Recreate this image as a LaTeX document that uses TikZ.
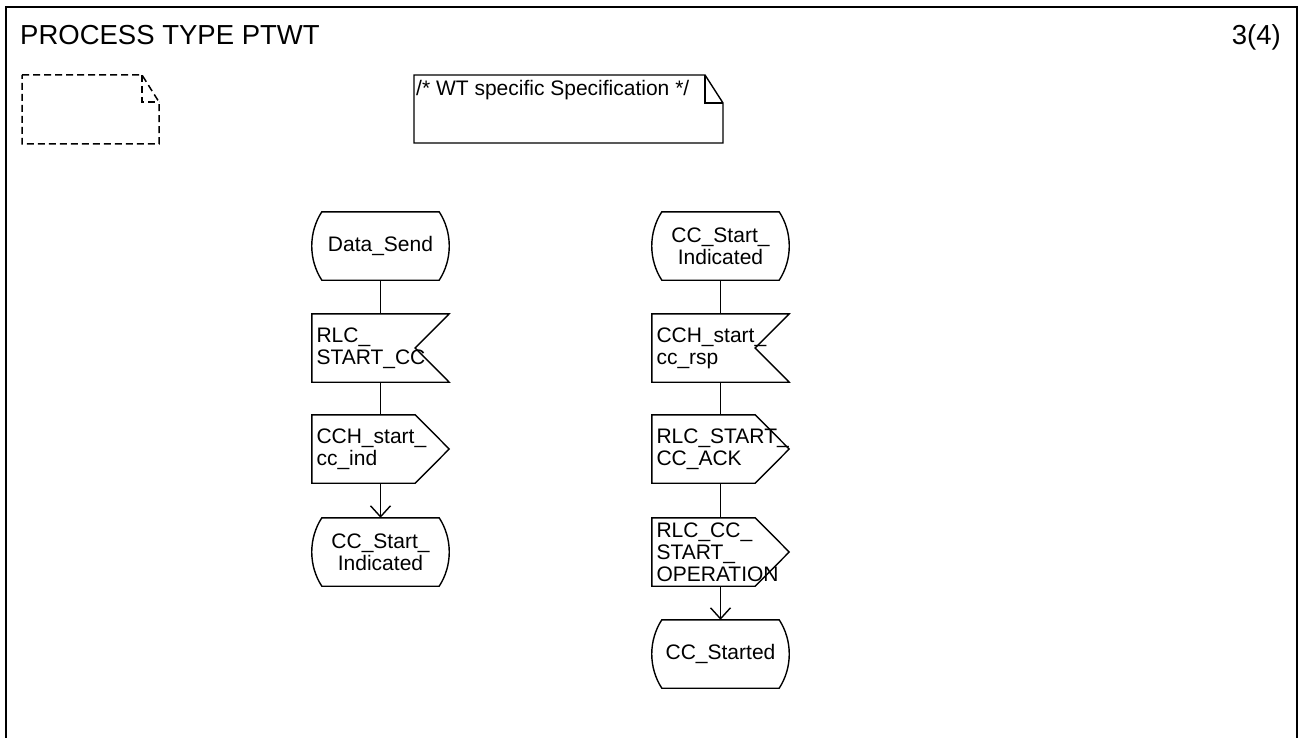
\documentclass[tikz,border=0pt]{standalone}
\usepackage{fontspec}
\setmainfont{Liberation Sans}
\usetikzlibrary{arrows.meta,calc}
\newcommand\sdlstateshape[1]{\draw[sdlline] ([xshift=10pt]#1.north west) -- ([xshift=-10pt]#1.north east) .. controls ([xshift=3.4pt,yshift=-20.7pt]#1.north east) and ([xshift=3.4pt,yshift=20.7pt]#1.south east) .. ([xshift=-10pt]#1.south east) -- ([xshift=10pt]#1.south west) .. controls ([xshift=-3.4pt,yshift=20.7pt]#1.south west) and ([xshift=-3.4pt,yshift=-20.7pt]#1.north west) .. cycle;}
\newcommand\sdlinshape[1]{\draw[sdlline] (#1.north west) -- (#1.north east) -- ([xshift=-34pt]#1.east) -- (#1.south east) -- (#1.south west) -- cycle;}
\newcommand\sdloutshape[1]{\draw[sdlline] (#1.north west) -- ([xshift=-34pt]#1.north east) -- (#1.east) -- ([xshift=-34pt]#1.south east) -- (#1.south west) -- cycle;}
\tikzset{
  sdlline/.style={line width=1.4pt, line join=miter},
  framestyle/.style={line width=2pt},
  nodefont/.style={font=\fontsize{21}{22}\selectfont},
  sdlbase/.style={nodefont, shape=rectangle, minimum height=68pt, inner xsep=4.5pt, inner ysep=0pt, text width=128pt},
  statebox/.style={sdlbase, align=center},
  inbox/.style={sdlbase, align=left},
  outbox/.style={sdlbase, align=left},
  conn/.style={line width=1.4pt},
  arr/.style={line width=1.4pt, -{Straight Barb[length=11pt,width=20pt,line width=1.4pt]}},
}
\begin{document}
\begin{tikzpicture}[x=1pt,y=-1pt]
\useasboundingbox (0,0) rectangle (1300,738);
% frame
\draw[framestyle] (6,760) -- (6,7) -- (1297,7) -- (1297,760);
\node[anchor=base west, font=\fontsize{27.5}{30}\selectfont, inner sep=0pt] (title) at (20,45) {PROCESS TYPE PTWT};
\node[anchor=base east, font=\fontsize{27.5}{30}\selectfont, inner sep=0pt] (page) at (1281,45) {3(4)};
% dashed text symbol
\draw[line width=1.5pt, dash pattern=on 7pt off 4pt] (22,75) -- (142,75) -- (159,102) -- (159,144) -- (22,144) -- cycle;
\draw[line width=1.5pt, dash pattern=on 7pt off 4pt] (142,75) -- (142,102) -- (159,102);
% comment
\draw[sdlline] (414,75) -- (705,75) -- (723,103) -- (723,143) -- (414,143) -- cycle;
\draw[sdlline] (705,75) -- (705,103) -- (723,103);
\node[anchor=base west, nodefont, inner sep=0pt] (ctext) at (416,96) {/* WT specific Specification */};
% left column
\node[statebox] (l1) at (380.5,246) {Data\_Send};
\node[inbox] (l2) at (380.5,348) {RLC\_\\START\_CC};
\node[outbox] (l3) at (380.5,449) {CCH\_start\_\\cc\_ind};
\node[statebox] (l4) at (380.5,552) {CC\_Start\_\\Indicated};
\sdlstateshape{l1}
\sdlinshape{l2}
\sdloutshape{l3}
\sdlstateshape{l4}
\draw[conn] (l1.south) -- (l2.north);
\draw[conn] (l2.south) -- (l3.north);
\draw[arr] (l3.south) -- (l4.north);
% right column
\node[statebox] (r1) at (720.5,246) {CC\_Start\_\\Indicated};
\node[inbox] (r2) at (720.5,348) {CCH\_start\_\\cc\_rsp};
\node[outbox] (r3) at (720.5,449) {RLC\_START\_\\CC\_ACK};
\node[outbox] (r4) at (720.5,552) {RLC\_CC\_\\START\_\\OPERATION};
\node[statebox] (r5) at (720.5,654) {CC\_Started};
\sdlstateshape{r1}
\sdlinshape{r2}
\sdloutshape{r3}
\sdloutshape{r4}
\sdlstateshape{r5}
\draw[conn] (r1.south) -- (r2.north);
\draw[conn] (r2.south) -- (r3.north);
\draw[conn] (r3.south) -- (r4.north);
\draw[arr] (r4.south) -- (r5.north);
\end{tikzpicture}
\end{document}
